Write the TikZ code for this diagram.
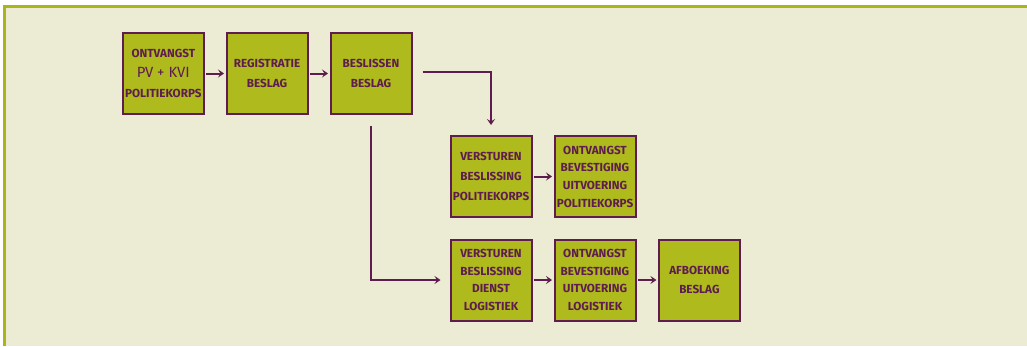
\documentclass[tikz,border=0pt]{standalone}
\usepackage{fontspec}
\setmainfont{Fira Sans}
\usetikzlibrary{arrows.meta}
\definecolor{bgc}{HTML}{ECEBD3}
\definecolor{framec}{HTML}{A9B51A}
\definecolor{boxc}{HTML}{AFBA1C}
\definecolor{purp}{HTML}{5E1D4E}
\tikzset{
  stepbox/.style={draw=purp, line width=2pt, fill=boxc, minimum width=81pt, minimum height=81pt,
    inner sep=0pt, align=center, text=purp, font=\fontsize{11.7}{17.7}\selectfont\bfseries},
  conn/.style={draw=purp, line width=2pt, -{Stealth[length=6pt,width=8pt,inset=2.5pt]}},
}
\begin{document}
\begin{tikzpicture}[x=1pt,y=-1pt]
\useasboundingbox (0,0) rectangle (1027,346);
\fill[white] (0,0) rectangle (1027,346);
\fill[bgc] (3,5) rectangle (1027,346);
\draw[framec, line width=2.5pt] (4.25,346) -- (4.25,6.25) -- (1027,6.25);

\node[stepbox, font=\fontsize{11.7}{19.8}\selectfont\bfseries] (b1) at (163.3,73.5) {ONTVANGST\\{\fontsize{14.8}{19.8}\selectfont\mdseries PV + KVI}\\POLITIEKORPS};
\node[stepbox, font=\fontsize{11.7}{19.6}\selectfont\bfseries] (b2) at (267,73.5) {REGISTRATIE\\BESLAG};
\node[stepbox, font=\fontsize{11.7}{19.6}\selectfont\bfseries] (b3) at (371,73.5) {BESLISSEN\\BESLAG};
\node[stepbox, font=\fontsize{11.7}{19.8}\selectfont\bfseries] (b4) at (491,176.5) {VERSTUREN\\BESLISSING\\POLITIEKORPS};
\node[stepbox] (b5) at (595,176.5) {ONTVANGST\\BEVESTIGING\\UITVOERING\\POLITIEKORPS};
\node[stepbox] (b6) at (491,280) {VERSTUREN\\BESLISSING\\DIENST\\LOGISTIEK};
\node[stepbox] (b7) at (595,280) {ONTVANGST\\BEVESTIGING\\UITVOERING\\LOGISTIEK};
\node[stepbox, font=\fontsize{11.7}{19.6}\selectfont\bfseries] (b8) at (699.4,280) {AFBOEKING\\BESLAG};

\draw[conn, shorten <=1.5pt, shorten >=1.5pt] (b1) -- (b2);
\draw[conn, shorten <=1.5pt, shorten >=1.5pt] (b2) -- (b3);
\draw[conn, shorten <=1.5pt, shorten >=1.5pt] (b4) -- (b5);
\draw[conn, shorten <=1.5pt, shorten >=1.5pt] (b6) -- (b7);
\draw[conn, shorten <=1.5pt, shorten >=1.5pt] (b7) -- (b8);
\draw[conn] ([xshift=10pt,yshift=1.5pt]b3.east) -| ([yshift=10pt]b4.north);
\draw[conn] ([yshift=-11pt]b3.south) |- ([xshift=-9pt]b6.west);
\end{tikzpicture}
\end{document}
